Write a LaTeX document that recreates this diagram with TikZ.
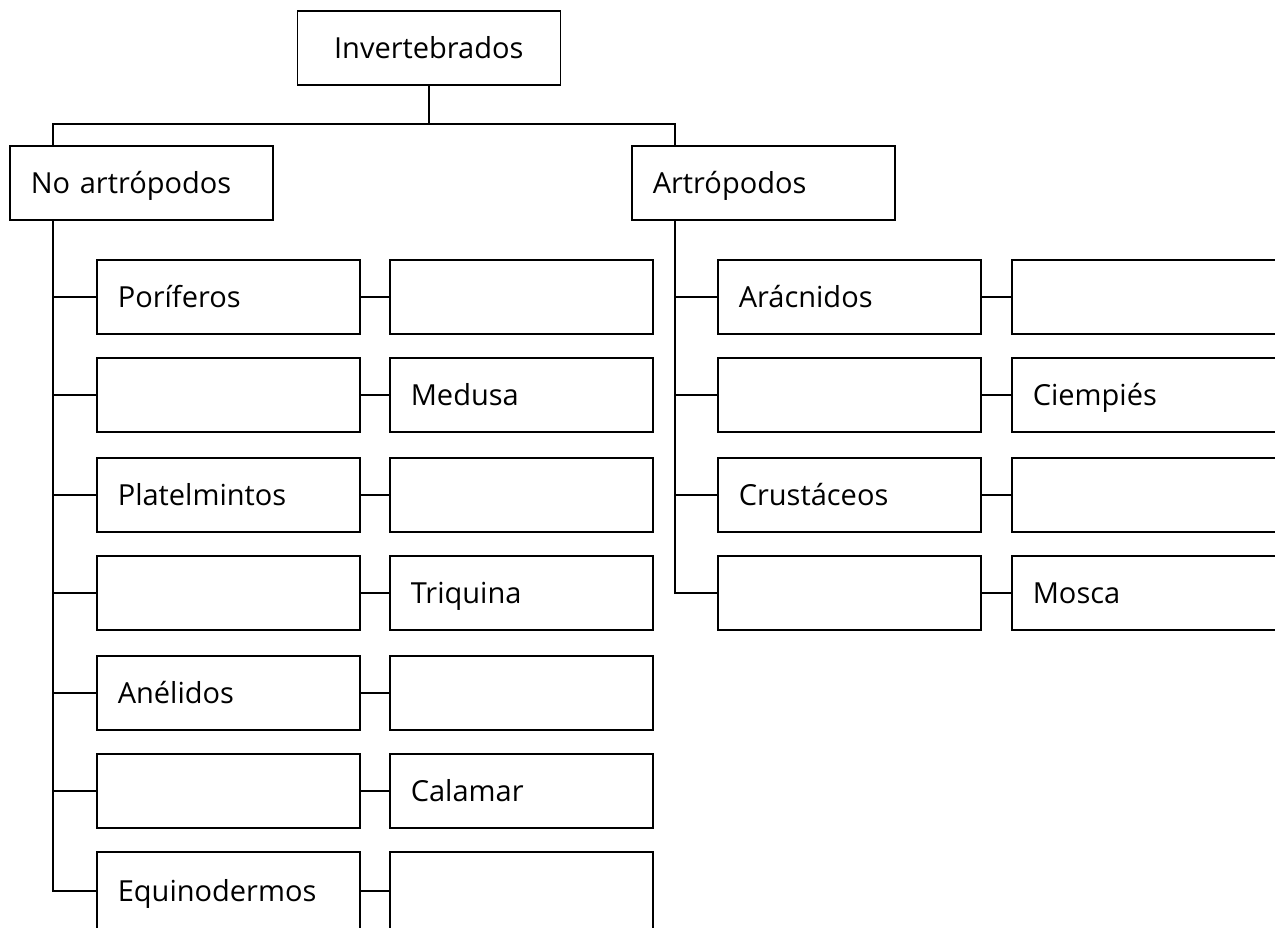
\documentclass[tikz,border=0pt]{standalone}
\usepackage{fontspec}
\setmainfont{Open Sans}
\begin{document}
\begin{tikzpicture}[x=1pt,y=-1pt,
  box/.style={draw, line width=1.6pt, rectangle, anchor=north west,
    minimum height=74pt, inner xsep=21pt, inner ysep=0pt, text width=221pt,
    align=left, font=\fontsize{29}{34}\selectfont,
    execute at begin node={\rule[-6pt]{0pt}{34pt}}},
  wbox/.style={box, text width=240pt},
  tbox/.style={box, minimum height=78pt},
  topbox/.style={box, align=center},
  conn/.style={line width=1.6pt, line cap=rect}]
\useasboundingbox (0,0) rectangle (1275,927);
\clip (0,0) rectangle (1275,927);
% top level
\node[topbox] (inv) at (296.5,10) {Invertebrados};
\node[box] (na) at (9,145) {No artrópodos};
\node[box] (ar) at (631,145) {Artrópodos};
\coordinate (jl) at (53,124);
\coordinate (jr) at (675,124);
\draw[conn] (inv.south) -- (inv.south |- jl);
\draw[conn] (jl |- na.north) -- (jl) -- (jr) -- (jr |- ar.north);
% left column
\node[box] (l1) at (96,259) {Poríferos};
\node[box] (m1) at (389,259) {};
\node[box] (l2) at (96,357) {};
\node[box] (m2) at (389,357) {Medusa};
\node[box] (l3) at (96,457) {Platelmintos};
\node[box] (m3) at (389,457) {};
\node[box] (l4) at (96,555) {};
\node[box] (m4) at (389,555) {Triquina};
\node[box] (l5) at (96,655) {Anélidos};
\node[box] (m5) at (389,655) {};
\node[box] (l6) at (96,753) {};
\node[box] (m6) at (389,753) {Calamar};
\node[tbox] (l7) at (96,851) {Equinodermos};
\node[tbox] (m7) at (389,851) {};
\draw[conn] (jl |- na.south) -- (jl |- l7.west);
\foreach \i in {1,...,7} {
  \draw[conn] (jl |- l\i.west) -- (l\i.west);
  \draw[conn] (l\i.east) -- (m\i.west);
}
% right column
\node[box] (r1) at (717,259) {Arácnidos};
\node[wbox] (s1) at (1011,259) {};
\node[box] (r2) at (717,357) {};
\node[wbox] (s2) at (1011,357) {Ciempiés};
\node[box] (r3) at (717,457) {Crustáceos};
\node[wbox] (s3) at (1011,457) {};
\node[box] (r4) at (717,555) {};
\node[wbox] (s4) at (1011,555) {Mosca};
\draw[conn] (jr |- ar.south) -- (jr |- r4.west);
\foreach \i in {1,...,4} {
  \draw[conn] (jr |- r\i.west) -- (r\i.west);
  \draw[conn] (r\i.east) -- (s\i.west);
}
\end{tikzpicture}
\end{document}
